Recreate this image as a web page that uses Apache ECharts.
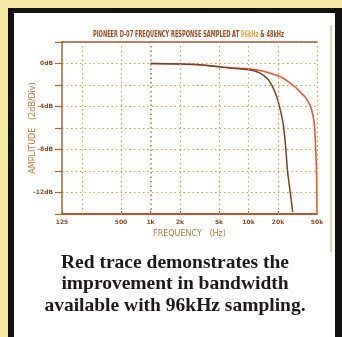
<!DOCTYPE html>
<html><head><meta charset="utf-8">
<script src="https://cdn.jsdelivr.net/npm/echarts@6/dist/echarts.min.js"></script>
<style>
html,body{margin:0;padding:0;background:#f7e9a6;overflow:hidden;}
#frame{position:absolute;left:8px;top:8px;width:334px;height:340px;background:#141210;}
#panel{position:absolute;left:14px;top:13px;width:321px;height:330px;background:#fffffd;}
#c{position:absolute;left:0;top:0;width:342px;height:337px;}
</style>
</head><body>
<div id="frame"></div><div id="panel"></div>
<div id="c"></div>
<script>
// ---- data ----
const titleMain = 'PIONEER D-07 FREQUENCY RESPONSE SAMPLED AT ';
const titleHi = '96kHz';
const titleEnd = ' & 48kHz';
const captionLines = ['Red trace demonstrates the', 'improvement in bandwidth', 'available with 96kHz sampling.'];
const xName = 'FREQUENCY   (Hz)';
const yName = 'AMPLITUDE   (2dB/Div)';
const xTickValues = [125, 500, 1000, 2000, 5000, 10000, 20000, 50000];
const xTickLabels = ['125', '500', '1k', '2k', '5k', '10k', '20k', '50k'];
const xGridValues = [200, 500, 1000, 2000, 5000, 10000, 20000, 50000];
const yLabelValues = [0, -4, -8, -12];
const yLabelTexts = ['0dB', '-4dB', '-8dB', '-12dB'];

// 48kHz sampling (brown trace)
const freq48 = [1000, 2000, 3000, 4000, 5000, 6500, 8000, 10000, 12000, 14000, 15500, 16600, 17600, 18600, 19600, 20500, 21400, 22300, 23000, 23600, 24200, 24900, 25700, 26500, 27300, 28200];
const db48 = [0, -0.05, -0.1, -0.2, -0.3, -0.42, -0.5, -0.58, -0.75, -1.05, -1.4, -1.75, -2.15, -2.65, -3.2, -3.85, -4.55, -5.3, -6.2, -7.1, -8.3, -9.8, -10.9, -11.8, -12.7, -13.8];
// 96kHz sampling (red trace)
const freq96 = [1000, 2000, 3000, 5000, 7000, 10000, 14000, 16600, 20000, 22400, 26000, 31000, 34000, 37700, 40000, 42400, 44000, 45100, 46500, 47600, 48300, 48800, 49400, 49800, 50000];
const db96 = [0, -0.05, -0.1, -0.3, -0.42, -0.5, -0.7, -0.9, -1.15, -1.35, -1.75, -2.3, -2.7, -3.1, -3.45, -3.85, -4.3, -4.7, -5.3, -6.4, -7.5, -8.5, -10, -12, -14];

// ---- build ----
const pairs = (xs, ys) => xs.map((x, i) => [x, ys[i]]);
const titleFont = 'bold 9px "DejaVu Sans"';
const cv = document.createElement('canvas').getContext('2d');
cv.font = titleFont;
const titleW = cv.measureText(titleMain + titleHi + titleEnd).width;
const titleScale = 191 / titleW;

const brown = '#7c3f22';
const red = '#e8553a';
const gridCol = '#d9a441';
const axisBrown = '#a9652e';

const chart = echarts.init(document.getElementById('c'), null, {renderer: 'canvas'});
chart.setOption({
  backgroundColor: 'transparent',
  animation: false,
  title: {
    text: captionLines.join('\n'),
    left: 175, top: 252, textAlign: 'center', padding: 0,
    textStyle: {fontFamily: '"Liberation Serif"', fontWeight: 'bold', fontSize: 19.5, lineHeight: 21.5, color: '#1c1a18'}
  },
  graphic: [
    {type: 'text', x: 188.5, y: 34.5, scaleX: titleScale, z: 100,
     style: {text: '{a|' + titleMain + '}{b|' + titleHi + '}{a|' + titleEnd + '}',
       textAlign: 'center', textVerticalAlign: 'middle',
       rich: {a: {fill: '#9a4a1c', font: titleFont}, b: {fill: '#f0a53a', font: titleFont}}}},
    {type: 'line', z: 1, shape: {x1: 331, y1: 25, x2: 331, y2: 252}, style: {stroke: '#d8a865', lineWidth: 1}}
  ],
  grid: {left: 62, right: 25, top: 42, bottom: 123},
  xAxis: [{
    type: 'log', logBase: 10, min: 125, max: 50000,
    name: xName, nameLocation: 'middle', nameGap: 12,
    nameTextStyle: {color: '#c07a3a', fontFamily: '"DejaVu Sans"', fontSize: 8},
    axisLine: {show: true, onZero: false, lineStyle: {color: '#c0502a', width: 2}},
    axisTick: {show: true, inside: true, length: 3, customValues: xTickValues, lineStyle: {color: axisBrown}},
    axisLabel: {customValues: xTickValues, margin: 5, color: '#8a4b20',
      fontFamily: '"DejaVu Sans"', fontWeight: 'bold', fontSize: 6,
      formatter: v => { const i = xTickValues.findIndex(t => Math.abs(t - v) / t < 1e-6); return i >= 0 ? xTickLabels[i] : ''; }},
    splitLine: {show: false}, minorTick: {show: false}
  }, {
    type: 'log', logBase: 10, min: 125, max: 50000, position: 'top',
    axisLine: {show: true, onZero: false, lineStyle: {color: '#a65a3a', width: 1.5}},
    axisTick: {show: false}, axisLabel: {show: false}, splitLine: {show: false}
  }],
  yAxis: {
    type: 'value', min: -14, max: 2, interval: 2,
    name: yName, nameLocation: 'middle', nameGap: 25, nameMoveOverlap: false,
    nameTextStyle: {color: '#c07a3a', fontFamily: '"DejaVu Sans"', fontSize: 8},
    axisLine: {show: true, onZero: false, lineStyle: {color: axisBrown, width: 1.5}},
    axisTick: {show: true, length: 7, lineStyle: {color: axisBrown, width: 1.2}},
    axisLabel: {margin: 9, color: '#8a4b20', fontFamily: '"DejaVu Sans"', fontWeight: 'bold', fontSize: 6,
      formatter: v => { const i = yLabelValues.indexOf(v); return i >= 0 ? yLabelTexts[i] : ''; }},
    splitLine: {show: true, lineStyle: {color: gridCol, type: [1.5, 3], width: 1.2}}
  },
  series: [
    {type: 'line', data: [], silent: true,
     markLine: {silent: true, symbol: 'none', label: {show: false}, animation: false,
       lineStyle: {color: gridCol, type: [1.5, 3], width: 1.2},
       data: xGridValues.map(v => v === 1000 ? {xAxis: v, lineStyle: {color: '#b5793a', width: 1.6, type: [1.5, 3]}} : {xAxis: v})}},
    {type: 'line', name: '96kHz', data: pairs(freq96, db96), showSymbol: false, smooth: 0.2,
     lineStyle: {color: red, width: 1.6}, z: 3},
    {type: 'line', name: '48kHz', data: pairs(freq48, db48), showSymbol: false, smooth: 0.2,
     lineStyle: {color: brown, width: 1.5}, z: 4}
  ]
});
</script>
</body></html>
